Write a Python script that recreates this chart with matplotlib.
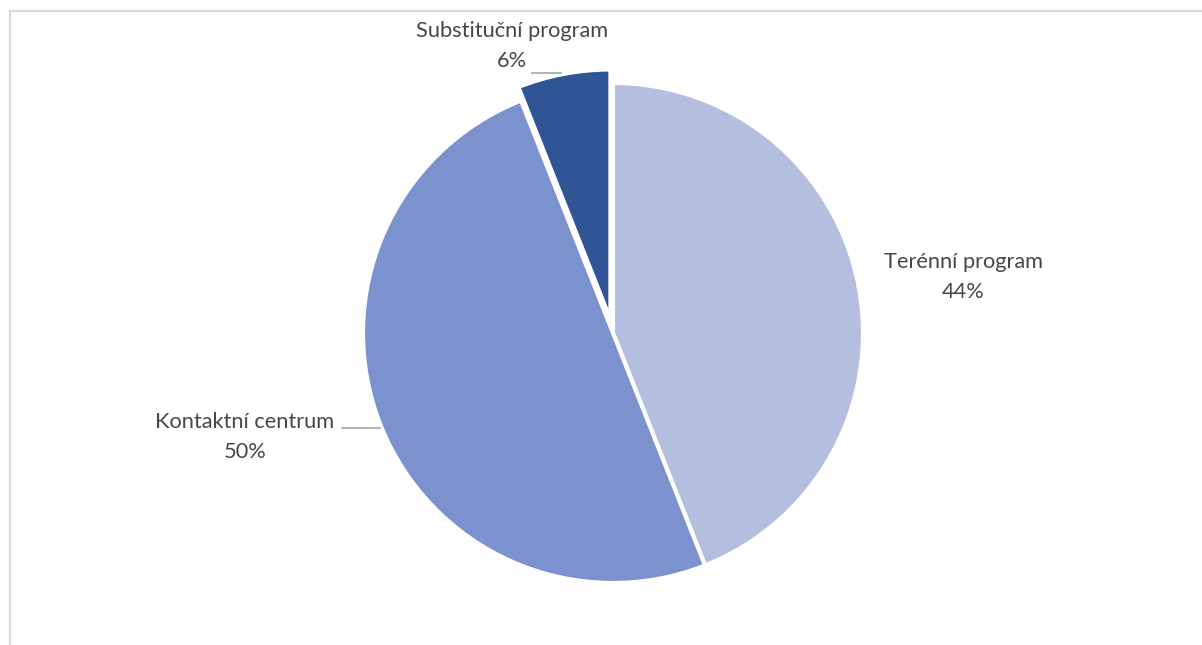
import matplotlib
matplotlib.use("Agg")
import matplotlib.pyplot as plt
from matplotlib.lines import Line2D

# Data
categories = ["Terénní program", "Kontaktní centrum", "Substituční program"]
shares = [44, 50, 6]
colors = ["#b4bfdf", "#7b92cf", "#2f5597"]
explode = [0, 0, 0.055]  # fraction of the radius

W, H = 1202, 645
fig = plt.figure(figsize=(W / 100, H / 100), dpi=100)
fig.patch.set_facecolor("white")
ax = fig.add_axes([0, 0, 1, 1])

cx, cy, R = 613, H - 333, 250
wedges, _ = ax.pie(
    shares,
    colors=colors,
    explode=[e * R for e in explode],
    startangle=90,
    counterclock=False,
    radius=R,
    center=(cx, cy),
    wedgeprops=dict(edgecolor="white", linewidth=3),
)
ax.set_xlim(0, W)
ax.set_ylim(0, H)
ax.set_aspect("equal")
ax.axis("off")

font = dict(family=["Lato", "DejaVu Sans"], fontsize=15.7, color="#474747",
            ha="center", va="center", linespacing=1.6)

# label centres (pixel coords, y from top)
label_pos = [(963, 277), (245, 437), (512, 46)]
for name, val, (x, y) in zip(categories, shares, label_pos):
    ax.text(x, H - y, f"{name}\n{val}%", **font)

# leader lines
lead = "#a6a6a6"
ax.add_line(Line2D([532, 561], [H - 73, H - 73], color=lead, lw=1.2))
ax.add_line(Line2D([342, 380], [H - 428, H - 428], color=lead, lw=1.2))

# chart area border (left and top)
border = "#d9d9d9"
fig.add_artist(Line2D([10.5 / W, 10.5 / W], [0, 1 - 10.5 / H], color=border, lw=1.5,
                      transform=fig.transFigure))
fig.add_artist(Line2D([10.5 / W, 1], [1 - 10.5 / H, 1 - 10.5 / H], color=border, lw=1.5,
                      transform=fig.transFigure))

fig.savefig("out.png", dpi=100, facecolor="white")
